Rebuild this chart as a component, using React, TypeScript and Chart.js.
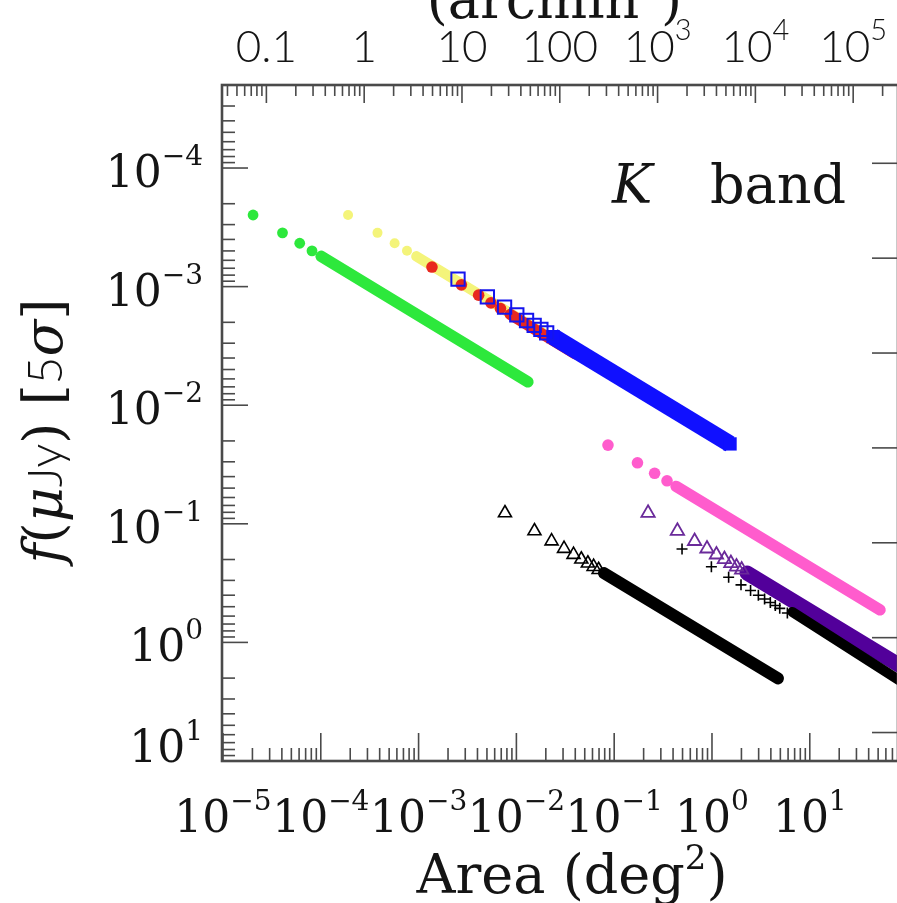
import React, { useEffect, useRef } from "react";
import { Chart, registerables } from "chart.js";

Chart.register(...registerables);

// ---------- axis ranges (deg^2 and flux) ----------
const X_MIN = 9.77e-6;
const X_MAX = 79.8;
const Y_MIN = 1.995e-5;
const Y_MAX = 10;

// ---------- tick labels ----------
const xTickExps = [-5, -4, -3, -2, -1, 0, 1];
const yTickExps = [-4, -3, -2, -1, 0, 1];
const topTickArcmin = [0.1, 1, 10, 100, 1e3, 1e4, 1e5];
const topTickText = ["0.1", "1", "10", "100", "10^3", "10^4", "10^5"];
const magTicks = [22, 24, 26, 28, 30, 32, 34];
const AB_ZERO = 23.9;
const ARCMIN2_PER_DEG2 = 3600;

// ---------- series (Area deg^2 , flux) ----------
const greenArea = [2.03e-5, 4.06e-5, 6.09e-5, 8.13e-5];
const greenFlux = [2.49e-4, 3.52e-4, 4.31e-4, 4.99e-4];
const greenBandArea = [1.01e-4, 1.31e-2];
const greenBandFlux = [5.56e-4, 6.35e-3];

const yellowArea = [1.9e-4, 3.8e-4, 5.69e-4, 7.61e-4];
const yellowFlux = [2.49e-4, 3.52e-4, 4.31e-4, 4.99e-4];
const yellowBandArea = [9.5e-4, 2.79e-2];
const yellowBandFlux = [5.56e-4, 3.02e-3];

const redArea = [1.37e-3, 2.74e-3, 4.11e-3, 5.5e-3, 6.88e-3];
const redFlux = [6.84e-4, 9.66e-4, 1.18e-3, 1.37e-3, 1.53e-3];
const redBandArea = [8.6e-3, 3.97e-2];
const redBandFlux = [1.71e-3, 3.69e-3];

const blueArea = [2.53e-3, 5.05e-3, 7.57e-3, 1.01e-2, 1.27e-2, 1.52e-2, 1.78e-2, 2.04e-2];
const blueFlux = [8.63e-4, 1.22e-3, 1.49e-3, 1.73e-3, 1.93e-3, 2.12e-3, 2.29e-3, 2.45e-3];
const blueBandArea = [2.37e-2, 1.53];
const blueBandFlux = [2.64e-3, 2.12e-2];

const pinkArea = [8.64e-2, 0.173, 0.259, 0.347];
const pinkFlux = [2.17e-2, 3.06e-2, 3.75e-2, 4.34e-2];
const pinkBandArea = [0.43, 52.2];
const pinkBandFlux = [4.84e-2, 0.531];

const blackTriArea = [7.64e-3, 1.53e-2, 2.29e-2, 3.07e-2, 3.84e-2, 4.61e-2, 5.38e-2, 6.16e-2, 6.93e-2];
const blackTriFlux = [8.11e-2, 0.115, 0.14, 0.162, 0.182, 0.199, 0.215, 0.23, 0.244];
const blackBandArea = [7.86e-2, 4.73];
const blackBandFlux = [0.26, 2.01];

const purpleArea = [0.222, 0.443, 0.664, 0.889, 1.11, 1.34, 1.56, 1.78, 2.01];
const purpleFlux = [8.11e-2, 0.115, 0.14, 0.162, 0.182, 0.199, 0.215, 0.23, 0.244];
const purpleBandArea = [2.28, 134];
const purpleBandFlux = [0.26, 1.99];

const plusArea = [0.494, 0.986, 1.48, 1.98, 2.48, 2.98, 3.45, 3.95, 4.44, 4.93, 5.9];
const plusFlux = [0.163, 0.2305, 0.2826, 0.327, 0.365, 0.4, 0.431, 0.461, 0.489, 0.516, 0.565];
const plusBandArea = [6.64, 134];
const plusBandFlux = [0.554, 2.7];

// ---------- styling ----------
const SERIF = '"DejaVu Serif", "Liberation Serif", serif';
const SANS = 'Lato, "Open Sans", "Liberation Sans", sans-serif';
const TEXT = "#141414";
const AXIS = "#4a4a4a";

const pts = (xs: number[], ys: number[]) => xs.map((x, i) => ({ x, y: ys[i] }));

function band(xs: number[], ys: number[], color: string, width: number, order: number, endStyle?: string, endR?: number) {
  return {
    data: pts(xs, ys),
    showLine: true,
    fill: false,
    borderColor: color,
    borderWidth: width,
    borderCapStyle: endStyle ? "butt" : "round",
    borderJoinStyle: "round",
    pointRadius: endStyle ? endR : 0,
    pointStyle: endStyle || "circle",
    pointBackgroundColor: color,
    pointBorderColor: color,
    pointBorderWidth: 0,
    tension: 0,
    clip: 0,
    order,
  };
}

function markers(xs: number[], ys: number[], style: string, r: number, fillC: string, strokeC: string, bw: number, order: number) {
  return {
    data: pts(xs, ys),
    showLine: false,
    pointStyle: style,
    pointRadius: r,
    pointBackgroundColor: fillC,
    pointBorderColor: strokeC,
    pointBorderWidth: bw,
    clip: 0,
    order,
  };
}

type Run = { t: string; f: string; dy?: number };

function drawRuns(ctx: CanvasRenderingContext2D, runs: Run[], x: number, y: number, align: string) {
  let total = 0;
  const ws = runs.map((r) => {
    ctx.font = r.f;
    const w = ctx.measureText(r.t).width;
    total += w;
    return w;
  });
  let cx = align === "center" ? x - total / 2 : align === "right" ? x - total : x;
  ctx.textAlign = "left";
  ctx.textBaseline = "alphabetic";
  runs.forEach((r, i) => {
    ctx.font = r.f;
    ctx.fillText(r.t, cx, y - (r.dy || 0));
    cx += ws[i];
  });
}

function powRuns(exp: number, fam: string, size: number, supSize: number, raise: number): Run[] {
  const e = exp < 0 ? "\u2212" + Math.abs(exp) : String(exp);
  return [
    { t: "10", f: `${size}px ${fam}` },
    { t: e, f: `${supSize}px ${fam}`, dy: raise },
  ];
}

function seg(ctx: CanvasRenderingContext2D, x1: number, y1: number, x2: number, y2: number) {
  ctx.beginPath();
  ctx.moveTo(x1, y1);
  ctx.lineTo(x2, y2);
  ctx.stroke();
}

const framePlugin = {
  id: "frameDecor",
  afterDraw(chart: any) {
    const { ctx, chartArea: a, scales } = chart;
    const xs = scales.x;
    const ys = scales.y;
    ctx.save();

    // ticks
    ctx.strokeStyle = AXIS;
    ctx.lineWidth = 1.6;
    for (let k = -7; k <= 3; k++) {
      for (let m = 1; m <= 9; m++) {
        const v = m * Math.pow(10, k);
        if (v >= X_MIN * 0.999 && v <= X_MAX * 1.001) {
          const px = xs.getPixelForValue(v);
          seg(ctx, px, a.bottom, px, a.bottom - (m === 1 ? 28 : 13));
        }
        if (v >= Y_MIN * 0.999 && v <= Y_MAX * 1.001) {
          const py = ys.getPixelForValue(v);
          seg(ctx, a.left, py, a.left + (m === 1 ? 26 : 13), py);
        }
      }
    }
    // top axis in arcmin^2
    for (let k = -3; k <= 6; k++) {
      for (let m = 1; m <= 9; m++) {
        const deg = (m * Math.pow(10, k)) / ARCMIN2_PER_DEG2;
        if (deg >= X_MIN && deg <= X_MAX) {
          const px = xs.getPixelForValue(deg);
          seg(ctx, px, a.top, px, a.top + (m === 1 ? 18 : 11));
        }
      }
    }
    // right axis: AB magnitudes
    magTicks.forEach((mag) => {
      const f = Math.pow(10, (AB_ZERO - mag) / 2.5);
      const py = ys.getPixelForValue(f);
      seg(ctx, a.right - 26, py, a.right, py);
    });

    // frame
    ctx.lineWidth = 2.6;
    ctx.strokeStyle = AXIS;
    ctx.strokeRect(a.left, a.top, a.right - a.left, a.bottom - a.top);

    ctx.fillStyle = TEXT;
    // bottom labels
    xTickExps.forEach((e) => {
      const px = xs.getPixelForValue(Math.pow(10, e));
      drawRuns(ctx, powRuns(e, SERIF, 44, 28, 22), px, a.bottom + 71, "center");
    });
    // left labels
    yTickExps.forEach((e) => {
      const py = ys.getPixelForValue(Math.pow(10, e));
      const base = Math.min(py + 19, a.bottom + 1);
      drawRuns(ctx, powRuns(e, SERIF, 44, 28, 22), a.left - 19, base, "right");
    });
    // top labels
    topTickArcmin.forEach((v, i) => {
      const px = xs.getPixelForValue(v / ARCMIN2_PER_DEG2);
      const txt = topTickText[i];
      if (txt.includes("^")) {
        const [b, e] = txt.split("^");
        drawRuns(
          ctx,
          [
            { t: b, f: `300 44px ${SANS}` },
            { t: e, f: `300 29px ${SANS}`, dy: 22 },
          ],
          px,
          62,
          "center"
        );
      } else {
        drawRuns(ctx, [{ t: txt, f: `300 44px ${SANS}` }], px, 62, "center");
      }
    });

    // top title (cropped)
    drawRuns(
      ctx,
      [
        { t: "(arcmin", f: `54px ${SERIF}` },
        { t: "2", f: `34px ${SERIF}`, dy: 24 },
        { t: ")", f: `54px ${SERIF}` },
      ],
      682,
      18,
      "right"
    );

    // bottom title
    drawRuns(
      ctx,
      [
        { t: "Area (deg", f: `54px ${SERIF}` },
        { t: "2", f: `34px ${SERIF}`, dy: 24 },
        { t: ")", f: `54px ${SERIF}` },
      ],
      572,
      893,
      "center"
    );

    // K band
    drawRuns(ctx, [{ t: "K", f: `italic 54px ${SERIF}` }], 612, 203, "left");
    drawRuns(ctx, [{ t: "band", f: `54px ${SERIF}` }], 846, 203, "right");

    // y title
    ctx.save();
    ctx.translate(62, 431);
    ctx.rotate(-Math.PI / 2);
    drawRuns(
      ctx,
      [
        { t: "f", f: `italic 54px ${SERIF}` },
        { t: "(", f: `54px ${SERIF}` },
        { t: "\u03bc", f: `italic 54px ${SERIF}` },
        { t: "Jy", f: `300 48px ${SANS}` },
        { t: ") [", f: `54px ${SERIF}` },
        { t: "5", f: `300 48px ${SANS}` },
        { t: "\u03c3", f: `italic 54px ${SERIF}` },
        { t: "]", f: `54px ${SERIF}` },
      ],
      0,
      0,
      "center"
    );
    ctx.restore();

    ctx.restore();
  },
};

export default function App() {
  const ref = useRef<HTMLCanvasElement | null>(null);

  useEffect(() => {
    if (!ref.current) return;
    const datasets: any[] = [
      band(greenBandArea, greenBandFlux, "#2de83c", 11.5, 20),
      markers(greenArea, greenFlux, "circle", 5.4, "#2de83c", "#2de83c", 0, 19),
      band(yellowBandArea, yellowBandFlux, "#f4f47a", 10.5, 18),
      markers(yellowArea, yellowFlux, "circle", 5, "#f4f47a", "#f4f47a", 0, 17),
      band(redBandArea, redBandFlux, "#e8281e", 11, 16),
      markers(redArea, redFlux, "circle", 5.8, "#e8281e", "#e8281e", 0, 15),
      band(blueBandArea, blueBandFlux, "#1010ff", 17, 14, "rect", 9.4),
      markers(blueArea, blueFlux, "rect", 9.4, "rgba(0,0,0,0)", "#1414ee", 2, 13),
      band(pinkBandArea, pinkBandFlux, "#ff5ccd", 11.5, 12),
      markers(pinkArea, pinkFlux, "circle", 5.8, "#ff5ccd", "#ff5ccd", 0, 11),
      band(blackBandArea, blackBandFlux, "#000000", 12, 10),
      markers(blackTriArea, blackTriFlux, "triangle", 7.5, "rgba(0,0,0,0)", "#000000", 1.6, 9),
      band(purpleBandArea, purpleBandFlux, "#52009a", 15, 8),
      markers(purpleArea, purpleFlux, "triangle", 7.7, "rgba(0,0,0,0)", "#6a2a9a", 1.8, 7),
      band(plusBandArea, plusBandFlux, "#000000", 10, 6),
      markers(plusArea, plusFlux, "cross", 5.5, "#000000", "#000000", 1.6, 5),
    ];

    const chart = new Chart(ref.current, {
      type: "scatter",
      data: { datasets },
      options: {
        responsive: false,
        animation: false,
        devicePixelRatio: 1,
        events: [],
        layout: { padding: { left: 222, top: 85, right: 12, bottom: 142 } },
        plugins: { legend: { display: false }, tooltip: { enabled: false } },
        scales: {
          x: { type: "logarithmic", min: X_MIN, max: X_MAX, display: false },
          y: { type: "logarithmic", reverse: true, min: Y_MIN, max: Y_MAX, display: false },
        },
      } as any,
      plugins: [framePlugin],
    });
    return () => chart.destroy();
  }, []);

  return (
    <div
      style={{
        position: "fixed",
        left: 0,
        top: 0,
        width: 897,
        height: 903,
        overflow: "hidden",
        background: "#ffffff",
      }}
    >
      <canvas ref={ref} width={910} height={903} style={{ display: "block" }} />
    </div>
  );
}
